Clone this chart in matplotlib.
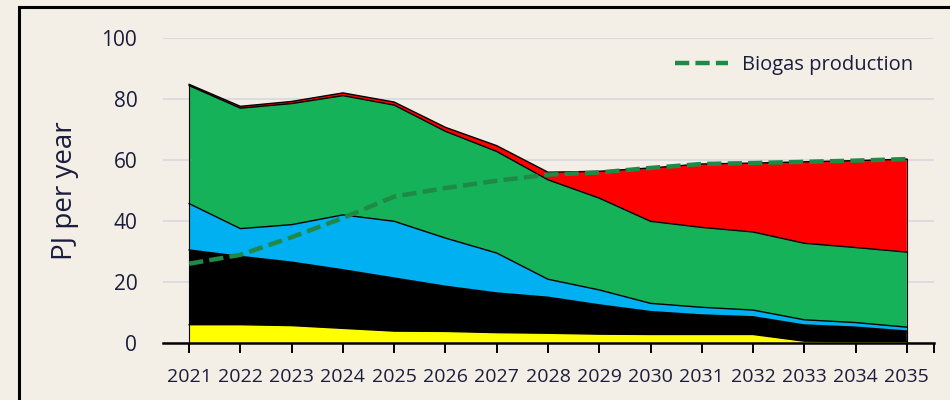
import matplotlib
matplotlib.use("Agg")
import matplotlib.pyplot as plt
import numpy as np
from matplotlib.lines import Line2D

years = list(range(2021, 2036))
# cumulative tops
yellow_top = [6.0, 6.0, 5.7, 4.8, 3.9, 3.8, 3.4, 3.2, 2.9, 2.8, 2.8, 2.8, 0.6, 0.5, 0.5]
black_top  = [30.5, 28.4, 26.5, 24.0, 21.3, 18.6, 16.4, 15.0, 12.5, 10.3, 9.2, 8.6, 5.9, 5.2, 3.9]
blue_top   = [45.7, 37.5, 38.8, 42.0, 39.9, 34.4, 29.5, 20.9, 17.4, 13.0, 11.7, 10.8, 7.6, 6.7, 5.2]
green_top  = [84.4, 77.0, 78.5, 81.1, 78.0, 69.4, 62.8, 53.5, 47.5, 39.9, 37.9, 36.4, 32.7, 31.3, 29.8]
red_top    = [84.8, 77.6, 79.2, 82.0, 79.0, 70.7, 64.7, 56.0, 56.3, 57.4, 58.7, 59.0, 59.4, 59.8, 60.3]
biogas     = [26.0, 28.9, 34.7, 41.0, 48.0, 50.8, 53.2, 55.2, 55.9, 57.4, 58.7, 59.0, 59.4, 59.8, 60.3]

layer_colors = ["#FFFF00", "#000000", "#00B0F0", "#16B25A", "#FF0000"]
bg = "#F3EFE6"
text_col = "#1C1C3C"

plt.rcParams['font.family'] = ['Open Sans', 'DejaVu Sans']

fig = plt.figure(figsize=(9.5, 4), dpi=100, facecolor=bg)
ax = fig.add_axes([163/950, 1-343/400, (934-163)/950, (343-38)/400])
ax.set_facecolor(bg)

x = np.array(years)
tops = [yellow_top, black_top, blue_top, green_top, red_top]
lower = np.zeros(len(years))
for t, c in zip(tops, layer_colors):
    t = np.array(t)
    ax.fill_between(x, lower, t, facecolor=c, edgecolor="none", zorder=2)
    ax.plot(x, t, color="black", lw=1.0, zorder=3)
    lower = t
ax.plot([x[-1], x[-1]], [0, red_top[-1]], color="black", lw=0.8, zorder=3)
ax.plot([x[0], x[0]], [0, red_top[0]], color="black", lw=0.8, zorder=3)

ax.plot(x, biogas, color="#1E8A45", lw=3.2, ls=(0, (3.2, 1.4)), zorder=4,
        label="Biogas production")

ax.set_xlim(2020.49, 2035.53)
ax.set_ylim(0, 100)
ax.set_yticks([0, 20, 40, 60, 80, 100])
ax.yaxis.grid(True, color="#D8D8DF", lw=1.2, zorder=0)
ax.set_axisbelow(True)
for s in ["top", "right", "left"]:
    ax.spines[s].set_visible(False)
ax.spines["bottom"].set_color("black")
ax.spines["bottom"].set_linewidth(1.8)
ax.set_xticks(years + [2035.53])
ax.set_xticklabels([str(y) for y in years] + [""])
ax.tick_params(axis="x", length=7, width=1.4, color="black", labelsize=14,
               labelcolor=text_col, pad=11)
ax.tick_params(axis="y", length=0, labelsize=15, labelcolor=text_col, pad=18.5)
ax.set_ylabel("PJ per year", fontsize=20, color=text_col)
ax.yaxis.set_label_coords((79 - 163) / 771, 0.5)

leg = ax.legend(loc="center left", bbox_to_anchor=(675/950, 1-65/400),
                bbox_transform=fig.transFigure, frameon=False, borderpad=0,
                borderaxespad=0, fontsize=14.5, handlelength=2.65,
                handletextpad=0.7, labelcolor=text_col)

# outer frame (top and left visible)
fig.add_artist(Line2D([19/950, 19/950], [0, 1-7/400], color="black", lw=2.2,
                      transform=fig.transFigure))
fig.add_artist(Line2D([19/950, 1], [1-7/400, 1-7/400], color="black", lw=2.2,
                      transform=fig.transFigure))

fig.savefig("out.png", dpi=100, facecolor=bg)
